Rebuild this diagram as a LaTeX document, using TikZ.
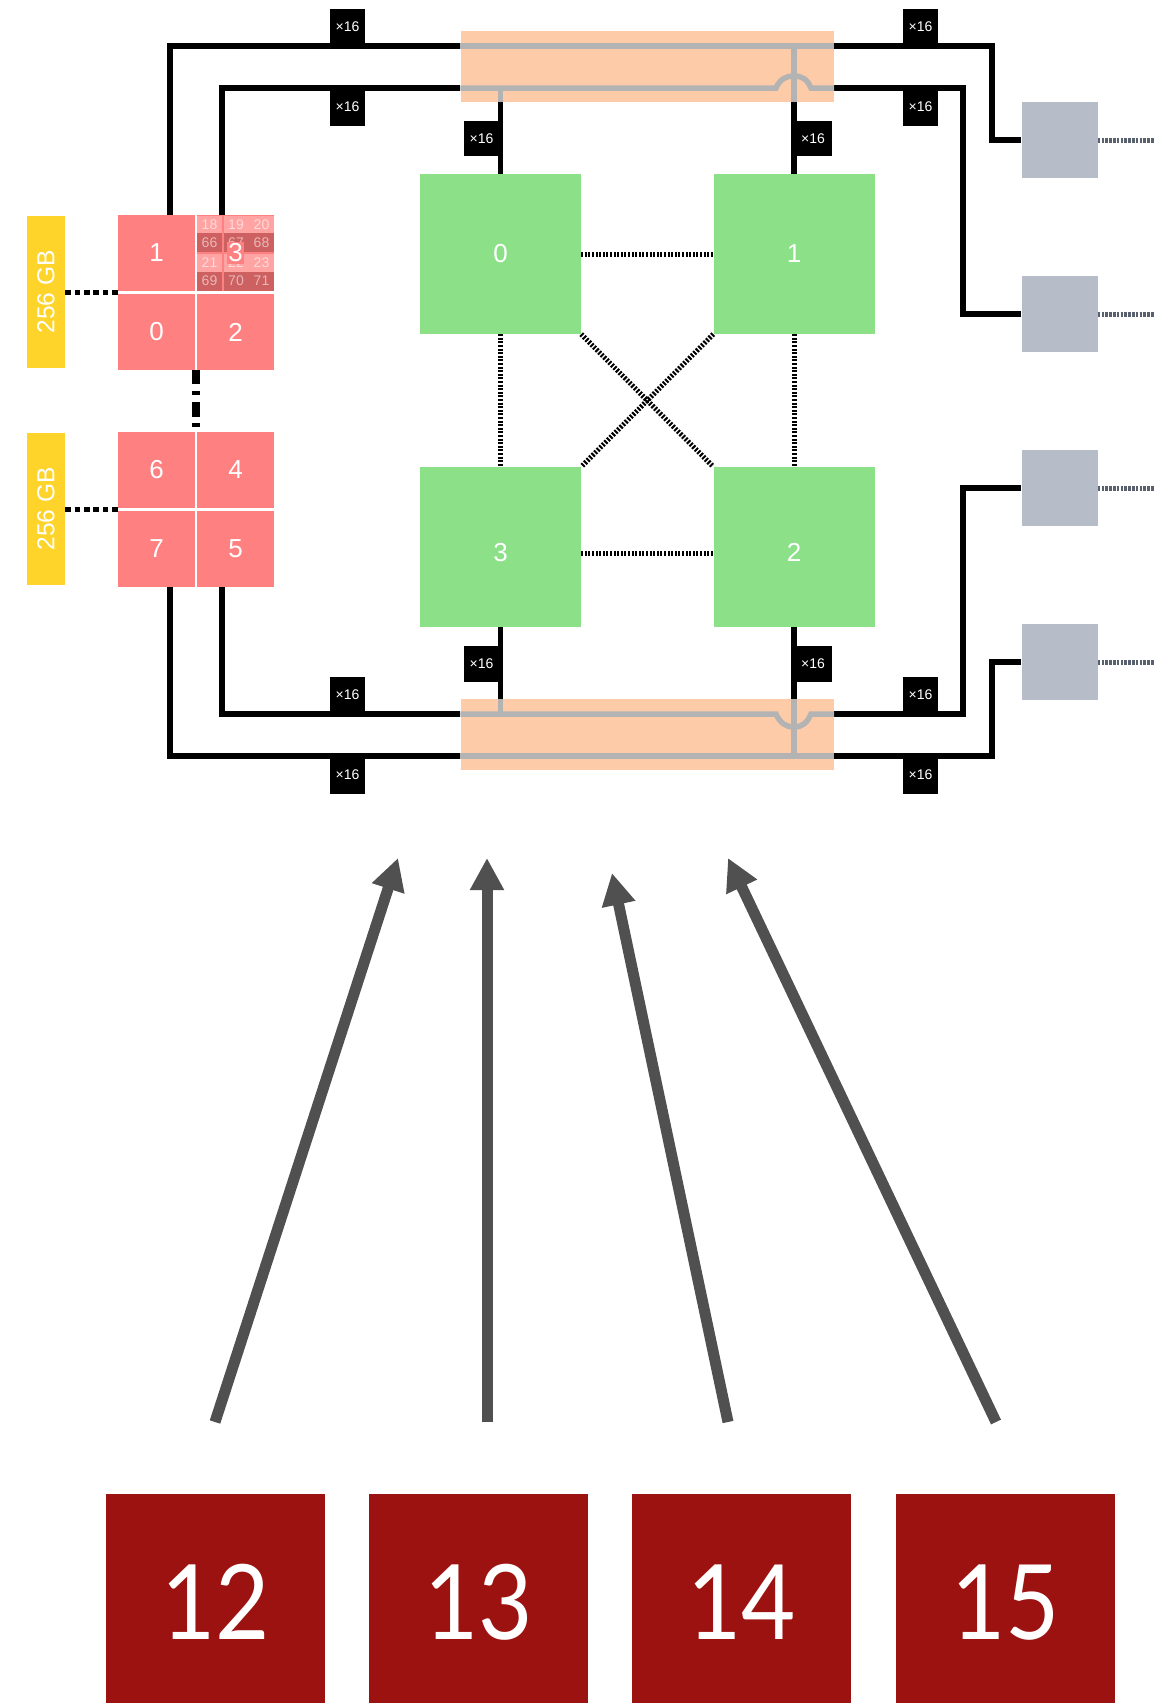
\documentclass[tikz,border=0pt]{standalone}
\usepackage{fontspec}
\setmainfont{Liberation Sans}
\newfontfamily\corefont[FakeStretch=0.9]{Lato}
\usetikzlibrary{arrows.meta}
\definecolor{rampink}{HTML}{FF8080}
\definecolor{ramlight}{HTML}{FFA3A3}
\definecolor{ramdark}{HTML}{CD6060}
\definecolor{ramyellow}{HTML}{FFD42A}
\definecolor{cpugreen}{HTML}{8BE088}
\definecolor{barorange}{HTML}{FECBA8}
\definecolor{busgrey}{HTML}{B3B3B3}
\definecolor{iogrey}{HTML}{B6BCC8}
\definecolor{iodots}{HTML}{59606E}
\definecolor{corered}{HTML}{9C1210}
\definecolor{arrowgrey}{HTML}{505050}
\tikzset{
  box/.style={inner sep=0pt, text=white},
  cpu/.style={box, fill=cpugreen, minimum width=161pt, minimum height=160pt, font=\fontsize{26}{26}\selectfont},
  mem/.style={box, fill=rampink, minimum width=77pt, minimum height=76.5pt, font=\fontsize{26}{26}\selectfont},
  ram/.style={box, fill=ramyellow, minimum width=38pt, minimum height=152pt, font=\fontsize{24.5}{25}\selectfont},
  bar/.style={box, fill=barorange, minimum width=373.5pt, minimum height=71pt},
  io/.style={box, fill=iogrey, minimum width=76pt, minimum height=76pt},
  tag/.style={box, fill=black, minimum width=35pt, minimum height=37pt, font=\fontsize{14}{14}\selectfont},
  core/.style={box, fill=corered, minimum width=219pt, minimum height=209pt, font=\corefont\fontsize{104}{104}\selectfont},
  cell/.style={box, minimum width=25pt, font=\fontsize{14}{14}\selectfont},
  celllight/.style={cell, fill=ramlight, minimum height=18pt, text=white!60!ramlight},
  celldark/.style={cell, fill=ramdark, minimum height=19pt, text=white!55!ramdark},
  wire/.style={line width=5.5pt},
  bus/.style={line width=5.5pt, draw=busgrey},
  memlink/.style={line width=5pt, dash pattern=on 5.6pt off 3.8pt},
  upilink/.style={line width=5pt, dash pattern=on 2pt off 1.6pt},
  iolink/.style={line width=5pt, draw=iodots, dash pattern=on 2.6pt off 1.2pt},
  pointer/.style={line width=11pt, draw=arrowgrey, -{Triangle[width=32pt,length=32pt]}}
}
\begin{document}
\begin{tikzpicture}[x=1pt, y=-1pt]
  \useasboundingbox (0, 0) rectangle (1154, 1703);

  % memory
  \node[ram] (ram1) at (46, 292) {\rotatebox{90}{256 GB}};
  \node[ram] (ram2) at (46, 509) {\rotatebox{90}{256 GB}};
  \node[mem] (mem1) at (156.5, 253) {1};
  \node[mem] (mem3) at (235.5, 253) {};
  \node[mem] (mem0) at (156.5, 332) {0};
  \node[mem] (mem2) at (235.5, 332) {2};
  \node[mem] (mem6) at (156.5, 470) {6};
  \node[mem] (mem4) at (235.5, 470) {4};
  \node[mem] (mem7) at (156.5, 549) {7};
  \node[mem] (mem5) at (235.5, 549) {5};
  \foreach \n/\cx in {18/209.5, 19/236, 20/261.5}
    \node[celllight] (cell\n) at (\cx, 224.5) {\n};
  \foreach \n/\cx in {66/209.5, 67/236, 68/261.5}
    \node[celldark] (cell\n) at (\cx, 242.5) {\n};
  \foreach \n/\cx in {21/209.5, 22/236, 23/261.5}
    \node[celllight] (cell\n) at (\cx, 262.5) {\n};
  \foreach \n/\cx in {69/209.5, 70/236, 71/261.5}
    \node[celldark] (cell\n) at (\cx, 281) {\n};
  \node[mem, minimum width=17pt, minimum height=22pt] (memlabel) at (235.5, 253) {3};

  % sockets
  \node[cpu] (cpu0) at (500.5, 254) {0};
  \node[cpu] (cpu1) at (794, 254) {1};
  \node[cpu] (cpu3) at (500.5, 547) {\raisebox{-5pt}[\height][0pt]{3}};
  \node[cpu] (cpu2) at (794, 547) {\raisebox{-5pt}[\height][0pt]{2}};
  \node[bar] (bar1) at (647.25, 66.5) {};
  \node[bar] (bar2) at (647.25, 734.5) {};

  % io boxes
  \node[io] (io1) at (1059.5, 140) {};
  \node[io] (io2) at (1059.5, 314) {};
  \node[io] (io3) at (1059.5, 488) {};
  \node[io] (io4) at (1059.5, 662) {};
  \coordinate (edge) at (1154, 0);
  \coordinate (r1) at (992, 46);
  \coordinate (r2) at (963, 88);
  \coordinate (r3) at (963, 714);
  \coordinate (r4) at (992, 756);

  % black wires
  \draw[wire] ([xshift=13.5pt]mem1.north) |- ([yshift=20.5pt]bar1.west);
  \draw[wire] ([xshift=-13.5pt]mem3.north) |- ([yshift=-21.5pt]bar1.west);
  \draw[wire] ([xshift=-13.5pt]mem5.south) |- ([yshift=20.5pt]bar2.west);
  \draw[wire] ([xshift=13.5pt]mem7.south) |- ([yshift=-21.5pt]bar2.west);
  \draw[wire] ([yshift=20.5pt]bar1.east) -- (r1) |- (io1.west);
  \draw[wire] ([yshift=-21.5pt]bar1.east) -- (r2) |- (io2.west);
  \draw[wire] ([yshift=20.5pt]bar2.east) -- (r3) |- (io3.west);
  \draw[wire] ([yshift=-21.5pt]bar2.east) -- (r4) |- (io4.west);
  \draw[wire] (cpu0.north) -- (cpu0.north |- bar1.south);
  \draw[wire] (cpu1.north) -- (cpu1.north |- bar1.south);
  \draw[wire] (cpu3.south) -- (cpu3.south |- bar2.north);
  \draw[wire] (cpu2.south) -- (cpu2.south |- bar2.north);

  % grey traces in the bars
  \draw[bus] ([yshift=20.5pt]bar1.west) -- ([yshift=20.5pt]bar1.east);
  \draw[bus] (cpu1.north |- 0, 46) -- (cpu1.north |- bar1.south);
  \draw[bus] ([yshift=-21.5pt]bar1.west) -- (776, 88) .. controls (780, 79) and (786, 76) .. (794, 76)
    .. controls (802, 76) and (807, 79) .. (811, 88) -- ([yshift=-21.5pt]bar1.east);
  \draw[bus] (cpu0.north |- 0, 88) -- (cpu0.north |- bar1.south);
  \draw[bus] ([yshift=-21.5pt]bar2.west) -- ([yshift=-21.5pt]bar2.east);
  \draw[bus] (cpu2.south |- 0, 756) -- (cpu2.south |- bar2.north);
  \draw[bus] ([yshift=20.5pt]bar2.west) -- (776, 714) .. controls (780, 723) and (786, 727) .. (794, 727)
    .. controls (802, 727) and (807, 723) .. (811, 714) -- ([yshift=20.5pt]bar2.east);
  \draw[bus] (cpu3.south |- 0, 714) -- (cpu3.south |- bar2.north);

  % x16 tags
  \node[tag] (tag1) at (347.5, 27) {×16};
  \node[tag] (tag2) at (347.5, 107) {×16};
  \node[tag] (tag3) at (347.5, 695) {×16};
  \node[tag] (tag4) at (347.5, 775) {×16};
  \node[tag] (tag5) at (920.5, 27) {×16};
  \node[tag] (tag6) at (920.5, 107) {×16};
  \node[tag] (tag7) at (920.5, 695) {×16};
  \node[tag] (tag8) at (920.5, 775) {×16};
  \node[tag, minimum height=35pt] (tag9) at (481.5, 138.5) {×16};
  \node[tag, minimum width=38pt, minimum height=35pt] (tag10) at (813, 138.5) {×16};
  \node[tag, minimum height=36pt] (tag11) at (481.5, 664) {×16};
  \node[tag, minimum width=38pt, minimum height=36pt] (tag12) at (813, 664) {×16};

  % dotted links
  \draw[memlink] (ram1.east) -- (ram1.east -| mem1.west);
  \draw[memlink] (ram2.east) -- (ram2.east -| mem7.west);
  \draw[line width=8pt, dash pattern=on 14pt off 7pt on 4pt off 7pt on 15pt off 6pt on 4pt off 20pt]
    ([xshift=-1pt]mem2.south west) -- ([xshift=-1pt]mem4.north west);
  \draw[upilink] (cpu0) -- (cpu1);
  \draw[upilink] (cpu0) -- (cpu3);
  \draw[upilink] (cpu1) -- (cpu2);
  \draw[upilink] ([yshift=-6pt]cpu3.east) -- ([yshift=-6pt]cpu2.west);
  \draw[upilink] (cpu0.south east) -- (cpu2.north west);
  \draw[upilink] (cpu1.south west) -- (cpu3.north east);
  \foreach \i in {1, 2, 3, 4}
    \draw[iolink] (io\i.east) -- (io\i.east -| edge);

  % cores
  \node[core] (core12) at (215.5, 1598.5) {\raisebox{-3.5pt}[\height][0pt]{12}};
  \node[core] (core13) at (478.5, 1598.5) {\raisebox{-3.5pt}[\height][0pt]{13}};
  \node[core] (core14) at (741.5, 1598.5) {\raisebox{-3.5pt}[\height][0pt]{14}};
  \node[core] (core15) at (1005.5, 1598.5) {\raisebox{-3.5pt}[\height][0pt]{15}};
  \coordinate (p12) at (215, 1422);
  \coordinate (p13) at (487, 1422);
  \coordinate (p14) at (728, 1422);
  \coordinate (p15) at (996, 1422);
  \coordinate (t12) at (398, 858);
  \coordinate (t13) at (487, 858);
  \coordinate (t14) at (612, 873);
  \coordinate (t15) at (728, 858);
  \draw[pointer] (p12) -- (t12);
  \draw[pointer] (p13) -- (t13);
  \draw[pointer] (p14) -- (t14);
  \draw[pointer] (p15) -- (t15);
\end{tikzpicture}
\end{document}
